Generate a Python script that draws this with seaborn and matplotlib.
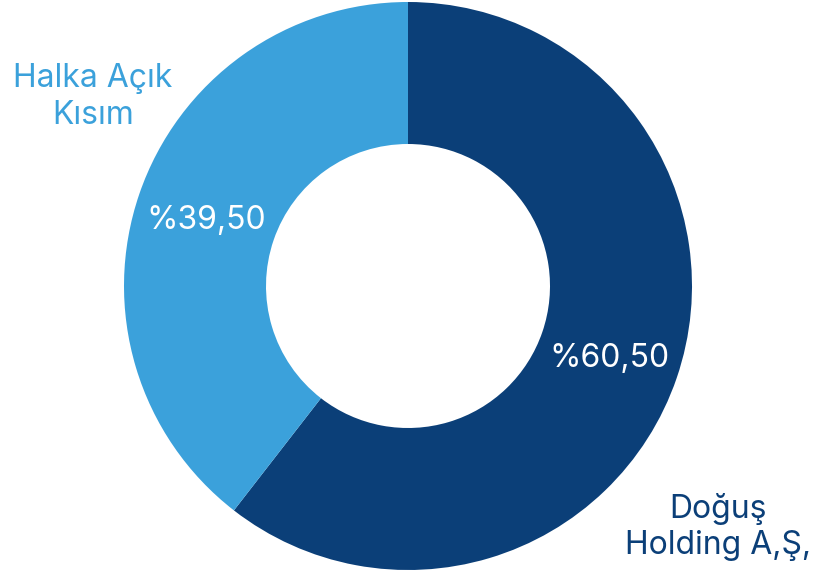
import matplotlib
matplotlib.use("Agg")
import matplotlib.pyplot as plt
import seaborn as sns

sns.set_theme(style="white")
plt.rcParams["font.family"] = ["Inter", "DejaVu Sans"]

labels = ["Doğuş\nHolding A,Ş,", "Halka Açık\nKısım"]
values = [60.50, 39.50]
colors = ["#0b3f78", "#3ba1db"]

W, H = 818, 576
fig = plt.figure(figsize=(W / 100, H / 100), dpi=100)
ax = fig.add_axes([0, 0, 1, 1])

cx, cy, R = 408, H - 286, 284
fs = 23
wedges, texts, autotexts = ax.pie(
    values, colors=colors, startangle=90, counterclock=False,
    center=(cx, cy), radius=R, wedgeprops=dict(width=R * 0.5, linewidth=0),
    autopct=lambda p: ("%" + f"{p:.2f}").replace(".", ","), pctdistance=0.75,
    textprops=dict(color="white", fontsize=fs, va="center_baseline"),
)
ax.text(93, H - 97, labels[1], color=colors[1], fontsize=fs, ha="center", va="center",
        linespacing=1.22)
ax.text(718, H - 527, labels[0], color=colors[0], fontsize=fs, ha="center", va="center",
        linespacing=1.22)

ax.set_xlim(0, W)
ax.set_ylim(0, H)
ax.set_aspect("equal")
ax.axis("off")
fig.savefig("out.png", dpi=100)
